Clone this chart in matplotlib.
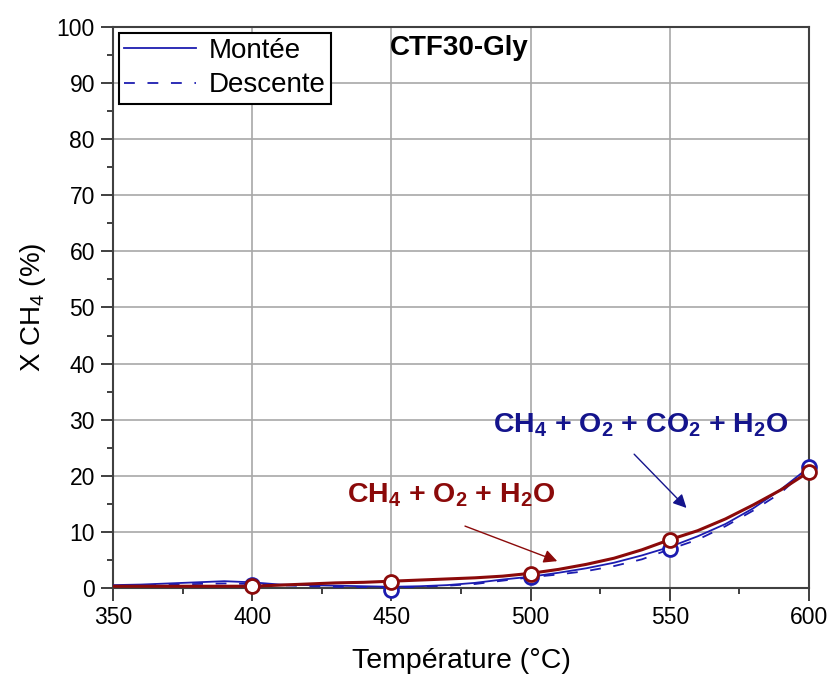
import matplotlib
matplotlib.use("Agg")
import matplotlib.pyplot as plt
from matplotlib.ticker import MultipleLocator

plt.rcParams['font.family'] = ['Liberation Sans', 'DejaVu Sans']
plt.rcParams['mathtext.fontset'] = 'custom'
plt.rcParams['mathtext.rm'] = 'Liberation Sans'
plt.rcParams['mathtext.bf'] = 'Liberation Sans:bold'

# Blue series (CH4 + O2 + CO2 + H2O)
T_blue_up = [350, 360, 370, 380, 390, 400, 410, 420, 430, 440, 450, 460, 470, 480, 490,
             500, 510, 520, 530, 540, 550, 560, 570, 580, 590, 600]
X_blue_up = [0.5, 0.6, 0.8, 1.0, 1.2, 1.0, 0.6, 0.5, 0.4, 0.3, 0.2, 0.3, 0.5, 0.9, 1.5,
             2.0, 2.7, 3.5, 4.5, 5.8, 7.3, 9.2, 11.4, 14.2, 17.6, 21.5]
T_blue_down = [600, 590, 580, 570, 560, 550, 540, 530, 520, 510, 500, 490, 480, 470, 460,
               450, 440, 430, 420, 410, 400, 390, 380, 370, 360, 350]
X_blue_down = [21.5, 17.0, 13.8, 11.0, 8.6, 6.9, 5.1, 3.9, 3.0, 2.4, 1.9, 1.3, 0.7, 0.4, 0.2,
               0.0, 0.1, 0.2, 0.3, 0.5, 0.7, 0.8, 0.7, 0.6, 0.5, 0.4]
T_blue_pts = [400, 450, 500, 550, 600]
X_blue_pts = [0.5, -0.3, 2.0, 7.0, 21.6]

# Red series (CH4 + O2 + H2O)
T_red = [350, 360, 370, 380, 390, 400, 410, 420, 430, 440, 450, 460, 470, 480, 490,
         500, 510, 520, 530, 540, 550, 560, 570, 580, 590, 600]
X_red = [0.3, 0.3, 0.3, 0.3, 0.3, 0.3, 0.5, 0.7, 0.9, 1.0, 1.2, 1.4, 1.6, 1.8, 2.1,
         2.6, 3.3, 4.2, 5.3, 6.8, 8.6, 10.2, 12.3, 14.8, 17.5, 20.7]
T_red_pts = [400, 450, 500, 550, 600]
X_red_pts = [0.3, 1.1, 2.5, 8.6, 20.7]

blue = '#1c1cb0'
dblue = '#14148c'
red = '#8b0a0a'

fig = plt.figure(figsize=(8.31, 6.75), dpi=100)
ax = fig.add_axes([0.136, 0.129, 0.8375, 0.831])

ax.plot(T_blue_up, X_blue_up, '-', color=blue, lw=1.3, label='Montée', zorder=3)
ax.plot(T_blue_down, X_blue_down, '--', color=blue, lw=1.3, dashes=(6, 7),
        label='Descente', zorder=3)
ax.plot(T_red, X_red, '-', color=red, lw=2.2, zorder=4)
ax.plot(T_blue_pts, X_blue_pts, 'o', mfc='white', mec=blue, mew=2, ms=10, zorder=5, clip_on=False)
ax.plot(T_red_pts, X_red_pts, 'o', mfc='white', mec=red, mew=2, ms=10, zorder=6, clip_on=False)

ax.set_xlim(350, 600)
ax.set_ylim(0, 100)
ax.xaxis.set_major_locator(MultipleLocator(50))
ax.xaxis.set_minor_locator(MultipleLocator(25))
ax.yaxis.set_major_locator(MultipleLocator(10))
ax.yaxis.set_minor_locator(MultipleLocator(5))
ax.tick_params(which='major', direction='out', length=9, width=1.3, labelsize=16.5, pad=4,
               color='#303030')
ax.tick_params(which='minor', direction='out', length=4, width=1.3, color='#303030')
ax.grid(True, which='major', color='#a8a8a8', lw=1.2)
ax.set_axisbelow(True)
for s in ax.spines.values():
    s.set_linewidth(1.5)
    s.set_color('#404040')

ax.set_xlabel('Température (°C)', fontsize=20.5, labelpad=14)
ax.set_ylabel('X CH$_4$ (%)', fontsize=20, labelpad=6)

ax.text(474.5, 96.3, 'CTF30-Gly', fontsize=20, fontweight='bold', ha='center', va='center')

leg = ax.legend(loc='upper left', fontsize=20, frameon=True, fancybox=False,
                edgecolor='black', framealpha=1, borderpad=0.2, handlelength=2.6,
                labelspacing=0.3, borderaxespad=0.2, handletextpad=0.45)
leg.get_frame().set_linewidth(1.5)

ax.annotate('', xy=(556.7, 13.9), xytext=(536.5, 24.2),
            arrowprops=dict(arrowstyle='-|>', color=dblue, lw=1, mutation_scale=20))
ax.text(539.5, 29.0, r'$\mathbf{CH_4}$ + $\mathbf{O_2}$ + $\mathbf{CO_2}$ + $\mathbf{H_2}$O',
        color=dblue, fontsize=20.5, fontweight='bold', ha='center', va='center')
ax.annotate('', xy=(510.5, 4.6), xytext=(475.5, 11.2),
            arrowprops=dict(arrowstyle='-|>', color=red, lw=1, mutation_scale=20))
ax.text(471.5, 16.6, r'$\mathbf{CH_4}$ + $\mathbf{O_2}$ + $\mathbf{H_2}$O', color=red, fontsize=20.5,
        fontweight='bold', ha='center', va='center')

fig.savefig('out.png', dpi=100)
